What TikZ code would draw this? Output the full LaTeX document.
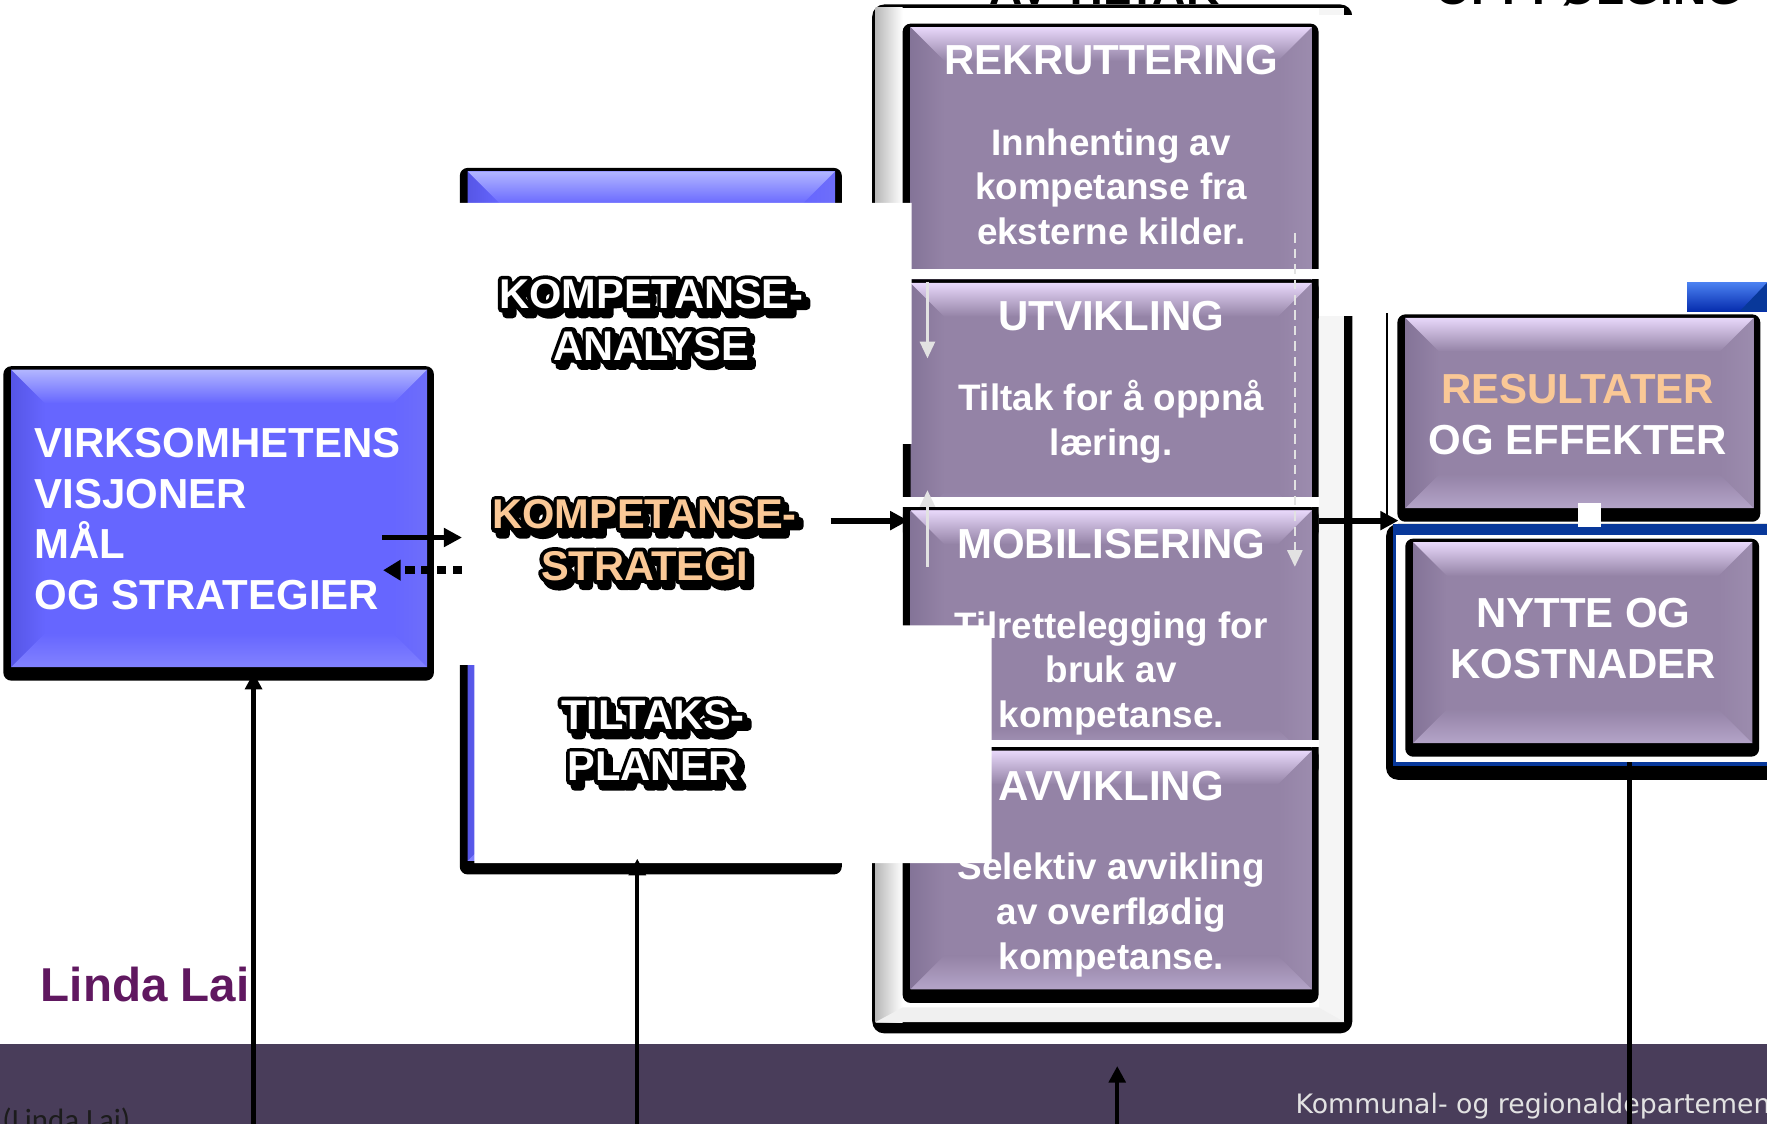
\documentclass[tikz,border=0pt]{standalone}
\usepackage{fontspec}
\setmainfont{Liberation Sans}
\newfontfamily\outlinefont{Liberation Sans}[BoldFeatures={FakeBold=20}]
\newfontfamily\deptfont{DejaVu Sans}
\newfontfamily\notefont{Carlito}
\usetikzlibrary{calc,arrows.meta}

\definecolor{purBase}{RGB}{148,131,166}
\definecolor{purLight}{RGB}{232,216,250}
\definecolor{purLeft}{RGB}{132,116,152}
\definecolor{purRight}{RGB}{156,140,174}
\definecolor{purBot}{RGB}{180,164,200}
\definecolor{bluBase}{RGB}{102,102,255}
\definecolor{bluLight}{RGB}{178,182,255}
\definecolor{bluLeft}{RGB}{86,86,230}
\definecolor{bluRight}{RGB}{110,110,250}
\definecolor{bluBot}{RGB}{130,130,255}
\definecolor{navy}{RGB}{8,56,154}
\definecolor{footbar}{RGB}{73,61,90}
\definecolor{peach}{RGB}{250,200,150}
\definecolor{plum}{RGB}{96,24,96}
\definecolor{pale}{RGB}{226,226,226}

% bevelled box: x1, y1, x2, y2, colour prefix
\newcommand{\bevelbox}[5]{%
  \fill[black, rounded corners=2pt] (#1-0.07,#2-0.12) rectangle (#3+0.06,#4+0.03);
  \fill[#5Base] (#1,#2) rectangle (#3,#4);
  \shade[left color=#5Left, right color=#5Base] (#1,#2) -- (#1,#4) -- (#1+0.3,#4-0.3) -- (#1+0.3,#2+0.3) -- cycle;
  \shade[left color=#5Base, right color=#5Right] (#3,#2) -- (#3,#4) -- (#3-0.3,#4-0.3) -- (#3-0.3,#2+0.3) -- cycle;
  \shade[top color=#5Base, bottom color=#5Bot] (#1,#2) -- (#3,#2) -- (#3-0.3,#2+0.3) -- (#1+0.3,#2+0.3) -- cycle;
  \shade[top color=#5Light, bottom color=#5Base] (#1,#4) -- (#3,#4) -- (#3-0.3,#4-0.3) -- (#1+0.3,#4-0.3) -- cycle;
}

% outlined label with a drop shadow: name, position of last baseline, colour, line 1, line 2
\newcommand{\shadowlabel}[5]{%
  \begin{scope}[line join=round]
  \node[midlabel, outline] at ($(#2)+(0.04,-0.05)$) {#4\\#5};
  \node[midlabel, outline] at (#2) {#4\\#5};
  \end{scope}
  \node[midlabel, text=#3] (#1) at (#2) {#4\\#5};
}

\begin{document}
\begin{tikzpicture}[
    arr/.style={line width=1.5pt, -{Triangle[width=4.6pt,length=4.6pt]}},
    dotarr/.style={line width=2pt, dash pattern=on 2.3pt off 1.7pt, -{Triangle[width=5pt,length=4.4pt]}},
    upline/.style={line width=1.1pt, -{Triangle[width=4.2pt,length=4.2pt]}},
    palearr/.style={pale, line width=0.6pt, -{Triangle[width=3.8pt,length=4.2pt]}},
    headtext/.style={text=white, font=\bfseries\fontsize{10.6}{12.8}\selectfont, align=center, anchor=base, inner sep=0pt},
    bodytext/.style={text=white, font=\bfseries\fontsize{9.3}{11.27}\selectfont, align=center, anchor=base, inner sep=0pt},
    midlabel/.style={font=\bfseries\fontsize{10.5}{13}\selectfont, align=center, anchor=base, inner sep=0pt},
    outline/.style={text=black, line join=round, font=\outlinefont\bfseries\fontsize{10.5}{13}\selectfont},
]

    \useasboundingbox (0,0) rectangle (15.68,9.97);
    \clip (0,0) rectangle (15.68,9.97);

    % Footer
    \fill[footbar] (0,0) rectangle (15.68,0.703);
    \node[anchor=base west, inner sep=0pt, text={rgb,255:red,28;green,28;blue,28}, font=\notefont\fontsize{7.8}{9}\selectfont] (note) at (0.015,-0.06) {(Linda Lai)};
    \node[anchor=base west, inner sep=0pt, text=pale, font=\deptfont\fontsize{6.75}{8}\selectfont] (dept) at (11.49,0.085) {Kommunal- og regionaldepartementet};

    % Headings cut by the top edge
    \node[anchor=base, inner sep=0pt, font=\bfseries\fontsize{11.6}{13}\selectfont] (gjennom) at (9.80,9.93) {AV TILTAK};
    \node[anchor=base, inner sep=0pt, font=\bfseries\fontsize{11.6}{13}\selectfont] (oppf) at (14.10,9.93) {OPPFØLGING};

    % Middle box
    \bevelbox{4.15}{2.33}{7.41}{8.45}{blu}

    % Frame round the measures
    \fill[black, rounded corners=3pt] (7.74,0.80) rectangle (12.00,9.93);
    \fill[white] (7.77,0.90) rectangle (11.93,9.90);
    \shade[left color=gray!55, right color=white] (7.77,0.90) rectangle (8.01,9.90);
    \fill[gray!8] (11.70,0.90) rectangle (11.93,9.90);
    \fill[gray!12] (7.77,0.90) -- (11.93,0.90) -- (11.70,1.03) -- (8.01,1.03) -- cycle;

    % Measures
    \bevelbox{8.08}{7.20}{11.64}{9.73}{pur}
    \bevelbox{8.08}{5.30}{11.64}{7.46}{pur}
    \bevelbox{8.08}{3.20}{11.64}{5.44}{pur}
    \bevelbox{8.08}{1.19}{11.64}{3.31}{pur}
    \fill[white] (8.00,7.49) rectangle (11.70,7.58);
    \fill[white] (8.00,5.47) rectangle (11.70,5.56);
    \fill[white] (8.00,3.34) rectangle (11.70,3.40);

    % Covered parts
    \fill[white] (4.05,8.17) -- (8.09,8.17) -- (8.09,6.03) -- (8.01,6.03) -- (8.01,4.42) -- (8.80,4.42)
        -- (8.80,2.31) -- (4.21,2.31) -- (4.21,4.07) -- (4.05,4.07) -- cycle;
    \fill[white] (11.705,7.17) rectangle (12.01,9.84);

    % Left box
    \bevelbox{0.10}{4.05}{3.79}{6.69}{blu}

    % Results
    \draw[line width=0.6pt] (12.31,7.19) -- (12.31,5.30);
    \shade[top color={rgb,255:red,74;green,128;blue,240}, bottom color=navy!80!blue] (14.97,7.21) rectangle (15.68,7.46);
    \fill[navy] (15.44,7.21) -- (15.68,7.21) -- (15.68,7.46) -- cycle;
    \bevelbox{12.47}{5.46}{15.56}{7.15}{pur}
    \fill[black, rounded corners=3pt] (12.30,3.05) rectangle (16.00,5.32);
    \fill[navy] (12.36,3.17) rectangle (16.00,5.32);
    \fill[white] (12.39,3.21) rectangle (16.00,5.22);
    \bevelbox{12.54}{3.375}{15.55}{5.16}{pur}
    \fill[white] (14.00,5.29) rectangle (14.21,5.51);

    % Texts
    \node[headtext, align=left, anchor=base west] (visjon) at (0.30,4.56) {VIRKSOMHETENS\\VISJONER\\MÅL\\OG STRATEGIER};
    \shadowlabel{analyse}{5.78,6.775}{white}{KOMPETANSE-}{ANALYSE}
    \shadowlabel{strategi}{5.72,4.82}{peach}{KOMPETANSE-}{STRATEGI}
    \shadowlabel{planer}{5.795,3.04}{white}{TILTAKS-}{PLANER}

    \node[headtext] (rekr) at (9.86,9.31) {REKRUTTERING};
    \node[bodytext] (rekr-txt) at (9.86,7.80) {Innhenting av\\kompetanse fra\\eksterne kilder.};
    \node[headtext] (utv) at (9.86,7.04) {UTVIKLING};
    \node[bodytext] (utv-txt) at (9.86,5.93) {Tiltak for å oppnå\\læring.};
    \node[headtext] (mob) at (9.86,5.01) {MOBILISERING};
    \node[bodytext] (mob-txt) at (9.86,3.515) {Tilrettelegging for\\bruk av\\kompetanse.};
    \node[headtext] (avv) at (9.86,2.865) {AVVIKLING};
    \node[bodytext] (avv-txt) at (9.86,1.37) {Selektiv avvikling\\av overflødig\\kompetanse.};

    \node[headtext] (result) at (14.00,5.94) {\textcolor{peach}{RESULTATER}\\OG EFFEKTER};
    \node[headtext, font=\bfseries\fontsize{10.6}{12.9}\selectfont] (nytte) at (14.05,3.945) {NYTTE OG\\KOSTNADER};

    \node[anchor=base west, inner sep=0pt, text=plum, font=\bfseries\fontsize{12}{14}\selectfont] (author) at (0.356,1.08) {Linda Lai};

    % Arrows
    \coordinate (visjon-out) at (3.39,5.20);
    \coordinate (strategi-in) at (4.10,5.20);
    \coordinate (strategi-back) at (4.10,4.91);
    \coordinate (visjon-in) at (3.40,4.91);
    \coordinate (strategi-out) at (7.37,5.35);
    \coordinate (mob-in) at (8.06,5.35);
    \coordinate (mob-out) at (11.70,5.35);
    \coordinate (result-in) at (12.41,5.35);
    \draw[arr] (visjon-out) -- (strategi-in);
    \draw[dotarr] (strategi-back) -- (visjon-in);
    \draw[arr] (strategi-out) -- (mob-in);
    \draw[arr] (mob-out) -- (result-in);

    % Lines from the footer
    \coordinate (foot-a) at (2.25,0);
    \coordinate (foot-b) at (5.655,0);
    \coordinate (foot-c) at (9.914,0);
    \coordinate (foot-d) at (14.46,0);
    \draw[upline] (foot-a) -- (2.25,4.00);
    \draw[upline] (foot-b) -- (5.655,2.35);
    \draw[upline] (foot-c) -- (9.914,0.51);
    \draw[line width=1.1pt] (foot-d) -- (14.46,3.21);

    % Pale arrows inside the measures
    \draw[palearr] (8.23,7.47) -- (8.23,6.79);
    \draw[palearr, {Triangle[width=3.8pt,length=4.2pt]}-] (8.23,5.62) -- (8.23,4.94);
    \draw[palearr, dash pattern=on 2.4pt off 1.5pt] (11.49,7.90) -- (11.49,4.94);

\end{tikzpicture}
\end{document}
